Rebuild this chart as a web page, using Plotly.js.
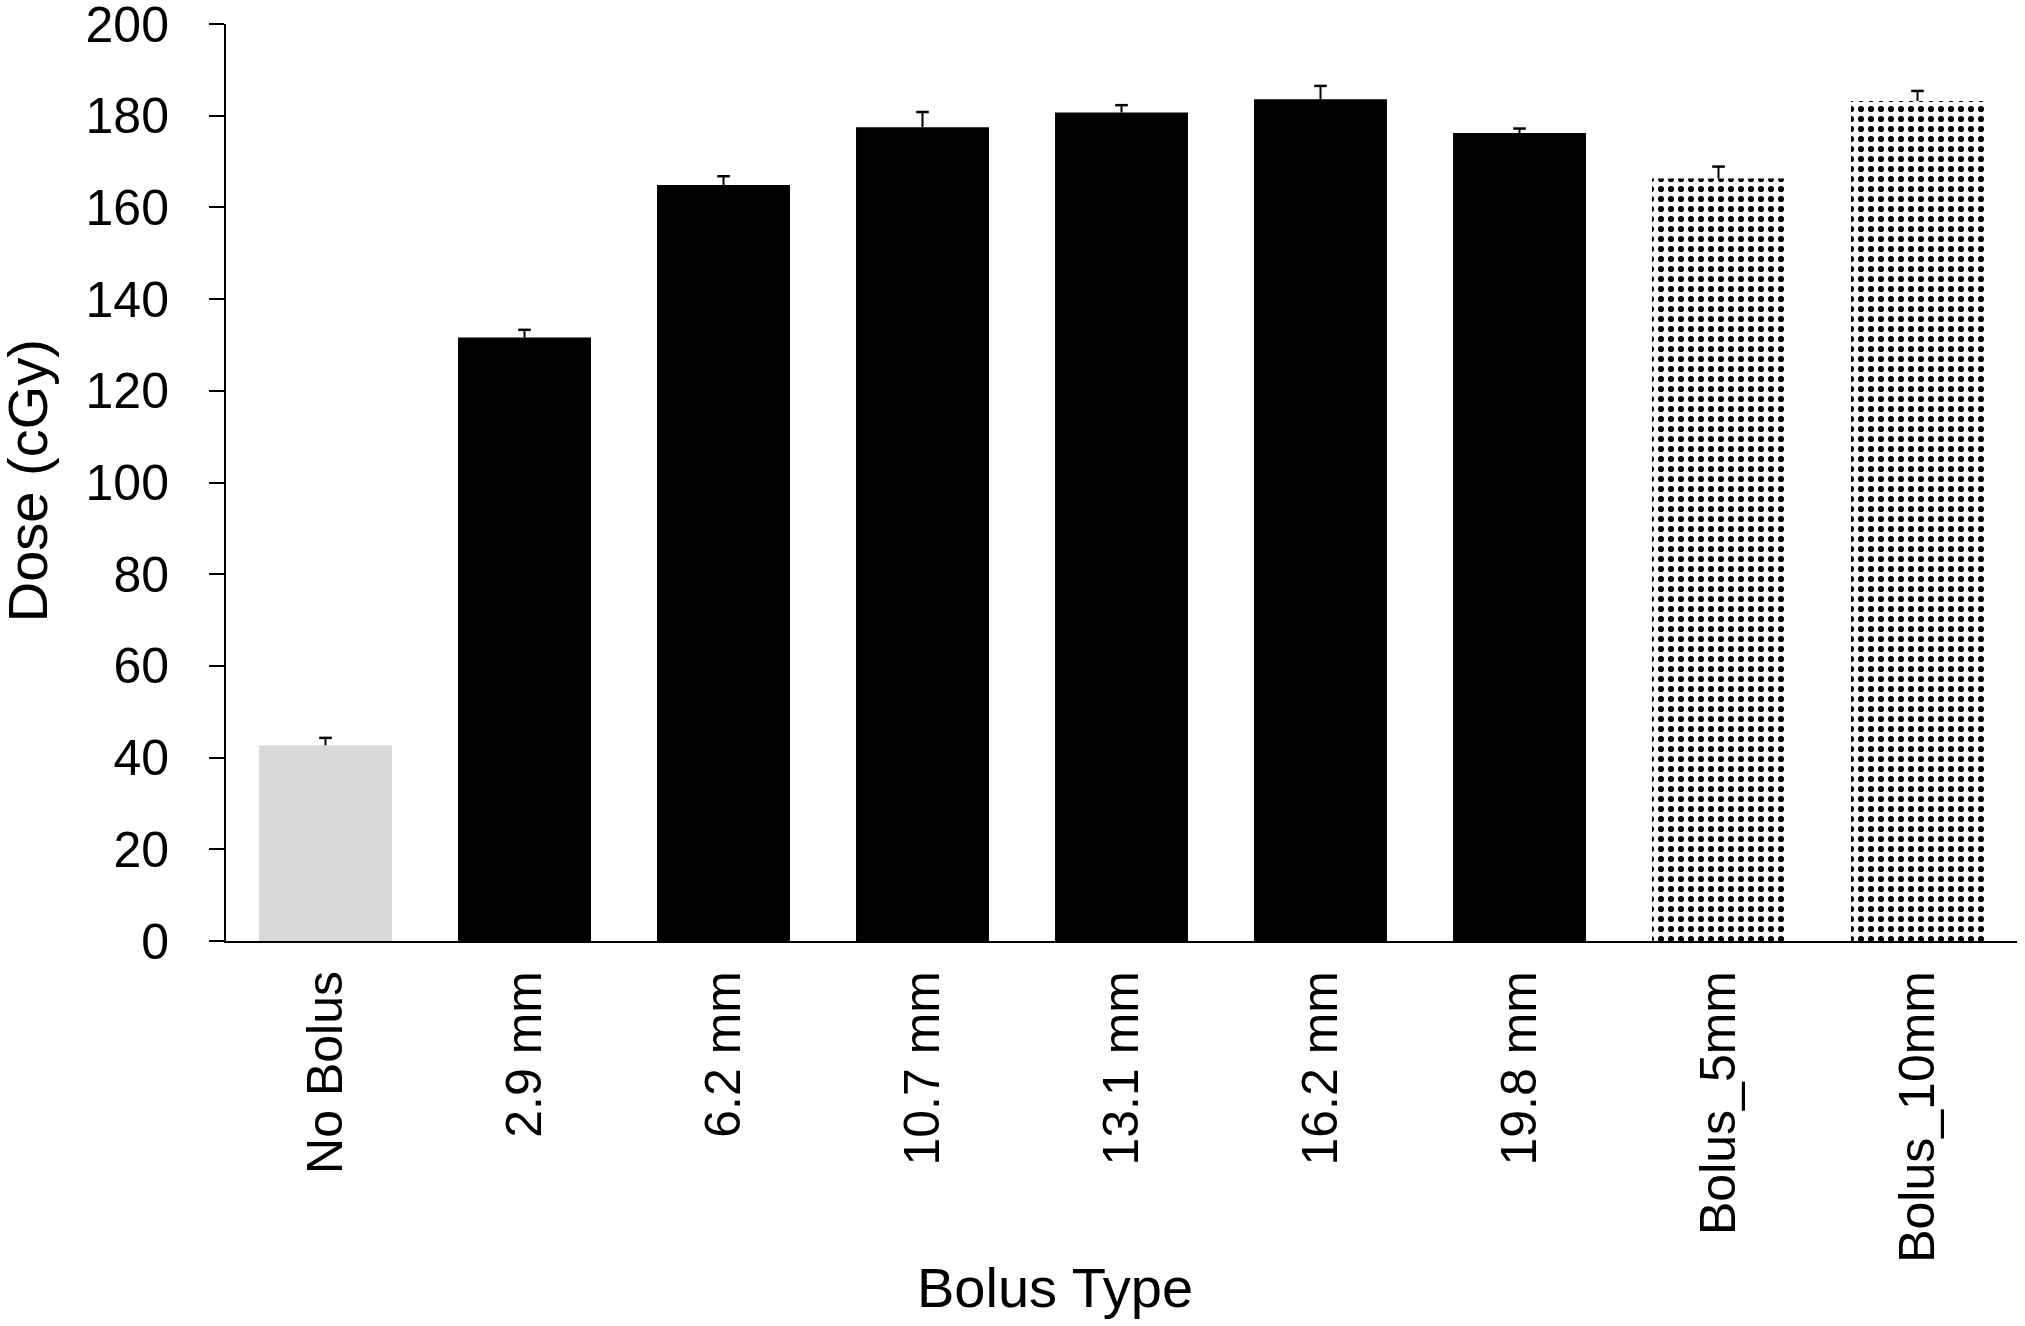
<!DOCTYPE html>
<html>
<head>
<meta charset="utf-8">
<script src="https://cdn.plot.ly/plotly-3.0.1.min.js"></script>
<style>
  html, body {margin: 0; padding: 0; background: #fff;}
  #chart {width: 2025px; height: 1326px;}
</style>
</head>
<body>
<div id="chart"></div>
<script>
// bolus types along the x axis
const categories = ["No Bolus", "2.9 mm", "6.2 mm", "10.7 mm", "13.1 mm", "16.2 mm", "19.8 mm", "Bolus_5mm", "Bolus_10mm"];
// mean dose (cGy) and upper error (cGy)
const doseValues = [42.7, 131.6, 164.9, 177.5, 180.7, 183.6, 176.2, 166.3, 183.2];
const doseErrors = [1.6, 1.7, 1.9, 3.3, 1.6, 2.9, 1.0, 2.6, 2.2];
const barColors = ['#d9d9d9', '#000000', '#000000', '#000000', '#000000', '#000000', '#000000'];
const nSolid = 7; // first 7 bars are solid, the last two are dotted

const fontFamily = '"Liberation Sans", Arial, Helvetica, sans-serif';

const solidBars = {
    type: 'bar',
    x: categories.slice(0, nSolid),
    y: doseValues.slice(0, nSolid),
    marker: {color: barColors, line: {width: 0}},
    hoverinfo: 'skip'
};

const dottedBars = {
    type: 'bar',
    x: categories.slice(nSolid),
    y: doseValues.slice(nSolid),
    marker: {
        color: '#ffffff',
        line: {width: 0},
        pattern: {shape: '.', fgcolor: '#000000', bgcolor: '#ffffff', size: 10, solidity: 0.3}
    },
    hoverinfo: 'skip'
};

// plus-only error bars: cap marker at top, stem going down to the bar
const errorTops = doseValues.map((v, i) => v + doseErrors[i]);
const errorBars = {
    type: 'scatter',
    mode: 'markers',
    x: categories,
    y: errorTops,
    marker: {symbol: 'line-ew', size: 9, color: '#000000', line: {width: 2.5, color: '#000000'}},
    error_y: {
        type: 'data',
        symmetric: false,
        array: doseErrors.map(() => 0),
        arrayminus: doseErrors,
        color: '#000000',
        thickness: 2,
        width: 0
    },
    hoverinfo: 'skip'
};

const layout = {
    width: 2025,
    height: 1326,
    margin: {l: 226, r: 8, t: 24, b: 385},
    paper_bgcolor: '#ffffff',
    plot_bgcolor: '#ffffff',
    showlegend: false,
    barmode: 'overlay',
    bargap: 0.332,
    font: {family: fontFamily, color: '#000000', size: 50},
    xaxis: {
        type: 'category',
        categoryorder: 'array',
        categoryarray: categories,
        showline: true,
        linecolor: '#000000',
        linewidth: 2,
        ticks: '',
        tickangle: -90,
        tickfont: {size: 50},
        ticklabelstandoff: 8,
        showgrid: false,
        zeroline: false
    },
    yaxis: {
        range: [0, 200],
        dtick: 20,
        showline: true,
        linecolor: '#000000',
        linewidth: 2,
        ticks: 'outside',
        ticklen: 15,
        tickwidth: 2,
        tickcolor: '#000000',
        tickfont: {size: 50},
        ticklabelstandoff: 30,
        ticklabeloverflow: 'allow',
        showgrid: false,
        zeroline: false
    },
    // axis titles as annotations so they sit where the original has them
    annotations: [
        {
            text: 'Bolus Type',
            font: {size: 56},
            showarrow: false,
            xref: 'paper', yref: 'paper',
            x: 0.4629, y: -0.378,
            xanchor: 'center', yanchor: 'middle'
        },
        {
            text: 'Dose (cGy)',
            font: {size: 56},
            textangle: -90,
            showarrow: false,
            xref: 'paper', yref: 'paper',
            x: -0.111, y: 0.5016,
            xanchor: 'center', yanchor: 'middle'
        }
    ]
};

Plotly.newPlot('chart', [solidBars, dottedBars, errorBars], layout, {staticPlot: true});
</script>
</body>
</html>
